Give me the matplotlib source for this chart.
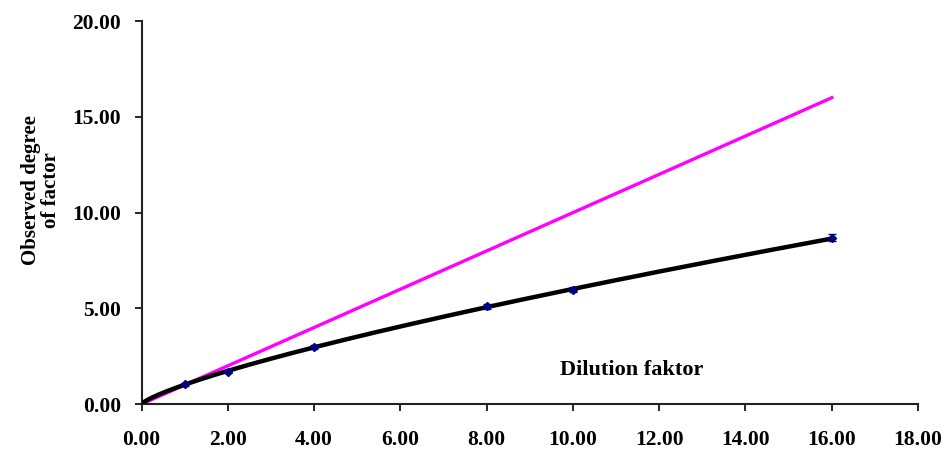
import numpy as np
import matplotlib.pyplot as plt

plt.rcParams['font.family'] = ['Liberation Serif', 'DejaVu Serif']
plt.rcParams['font.weight'] = 'bold'

# Verdünnungsreihe: erwarteter und beobachteter Faktor
dilution = [1, 2, 4, 8, 10, 16]
observed = [1.04, 1.68, 2.97, 5.10, 5.98, 8.70]
observed_err = [0.08, 0.08, 0.10, 0.12, 0.15, 0.20]
expected = [0, 16]

fig = plt.figure(figsize=(9.44, 4.5), dpi=100)
ax = fig.add_axes([0.150, 0.102, 0.8225, 0.851])

# ideale Gerade
ax.plot(expected, expected, color='#FF00FF', lw=2.4, zorder=2)

# Potenzfit durch die Messpunkte
b, log_a = np.polyfit(np.log(dilution), np.log(observed), 1)
xs = np.linspace(0, max(dilution), 200)
ax.plot(xs, np.exp(log_a) * xs ** b, color='black', lw=3.2, zorder=3)

ax.errorbar(dilution, observed, yerr=observed_err, fmt='D', color='#000080',
            ms=4.5, capsize=3, elinewidth=1, zorder=4)

ax.set_xlim(0, 18)
ax.set_ylim(0, 20)
ax.set_xticks(np.arange(0, 19, 2))
ax.set_yticks(np.arange(0, 21, 5))
ax.xaxis.set_major_formatter(lambda v, p: f'{v:.2f}')
ax.yaxis.set_major_formatter(lambda v, p: f'{v:.2f}')
ax.tick_params(direction='out', length=5, width=1.2, labelsize=15.5)
ax.tick_params(axis='x', pad=14)
ax.tick_params(axis='y', pad=10)
for lab in ax.get_xticklabels() + ax.get_yticklabels():
    lab.set_fontweight('bold')

for side in ['top', 'right']:
    ax.spines[side].set_visible(False)
for side in ['left', 'bottom']:
    ax.spines[side].set_linewidth(1.5)
    ax.spines[side].set_color('#222222')

ax.set_ylabel('Observed degree\nof factor', fontsize=15, fontweight='bold',
              linespacing=1.0)
ax.yaxis.set_label_coords(-0.104, 0.56)
ax.text(11.35, 1.8, 'Dilution faktor', fontsize=16, fontweight='bold',
        ha='center', va='center')

fig.savefig('out.png', dpi=100)
